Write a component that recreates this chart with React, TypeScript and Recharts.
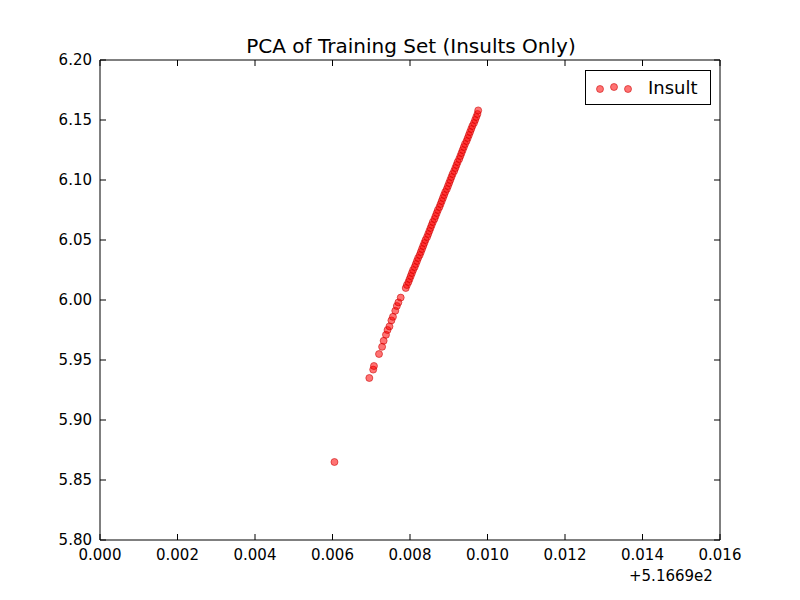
import React from "react";
import { ScatterChart, Scatter, XAxis, YAxis } from "recharts";

// x values are offsets from 516.69 (matplotlib shows "+5.1669e2")
const xValues = [
  0.00605, 0.00695, 0.00705, 0.00707, 0.0072, 0.00728, 0.00732, 0.00738, 0.00742, 0.00747,
  0.00752, 0.00756, 0.00762, 0.00766, 0.0077, 0.00776, 0.00789, 0.00792, 0.00796, 0.00799,
  0.00802, 0.00805, 0.00808, 0.00812, 0.00815, 0.00818, 0.00821, 0.00825, 0.00828, 0.00831,
  0.00834, 0.00837, 0.0084, 0.00844, 0.00847, 0.0085, 0.00853, 0.00856, 0.00859, 0.00863,
  0.00866, 0.00869, 0.00872, 0.00876, 0.00879, 0.00882, 0.00885, 0.00888, 0.00891, 0.00895,
  0.00898, 0.00901, 0.00904, 0.00907, 0.0091, 0.00914, 0.00917, 0.0092, 0.00923, 0.00927,
  0.0093, 0.00933, 0.00936, 0.00939, 0.00942, 0.00946, 0.00949, 0.00952, 0.00955, 0.00958,
  0.00961, 0.00965, 0.00968, 0.00971, 0.00974, 0.00976,
];
const yValues = [
  5.865, 5.935, 5.942, 5.945, 5.955, 5.961, 5.966, 5.971, 5.975, 5.978,
  5.983, 5.986, 5.991, 5.995, 5.998, 6.002, 6.01, 6.0125, 6.015, 6.0175,
  6.02, 6.0225, 6.025, 6.0275, 6.03, 6.0325, 6.035, 6.0375, 6.04, 6.0425,
  6.045, 6.0475, 6.05, 6.0525, 6.055, 6.0575, 6.06, 6.0625, 6.065, 6.0675,
  6.07, 6.0725, 6.075, 6.0775, 6.08, 6.0825, 6.085, 6.0875, 6.09, 6.0925,
  6.095, 6.0975, 6.1, 6.1025, 6.105, 6.1075, 6.11, 6.1125, 6.115, 6.1175,
  6.12, 6.1225, 6.125, 6.1275, 6.13, 6.1325, 6.135, 6.1375, 6.14, 6.1425,
  6.145, 6.1475, 6.15, 6.1525, 6.155, 6.158,
];
const xTicks = [0, 0.002, 0.004, 0.006, 0.008, 0.01, 0.012, 0.014, 0.016];
const yTicks = [5.8, 5.85, 5.9, 5.95, 6.0, 6.05, 6.1, 6.15, 6.2];

const data = xValues.map((x, i) => ({ x, y: yValues[i] }));
const font = "DejaVu Sans, sans-serif";

const Dot = (p: any) => (
  <circle cx={p.cx} cy={p.cy} r={3.5} fill="rgba(255,0,0,0.55)" stroke="rgba(200,0,0,0.55)" strokeWidth={1} />
);

const LeftTick = (p: any) => (
  <g>
    <line x1={p.x + 8} x2={p.x + 14} y1={p.y} y2={p.y} stroke="#000" />
    <text x={p.x} y={p.y} dy={5} textAnchor="end" fontSize={15} fontFamily={font} fill="#000">
      {p.payload.value.toFixed(2)}
    </text>
  </g>
);
const RightTick = (p: any) => (
  <line x1={p.x - 8} x2={p.x - 14} y1={p.y} y2={p.y} stroke="#000" />
);
const BottomTick = (p: any) => (
  <g>
    <line x1={p.x} x2={p.x} y1={p.y - 8} y2={p.y - 14} stroke="#000" />
    <text x={p.x} y={p.y} dy={12} textAnchor="middle" fontSize={15} fontFamily={font} fill="#000">
      {p.payload.value.toFixed(3)}
    </text>
  </g>
);
const TopTick = (p: any) => (
  <line x1={p.x} x2={p.x} y1={p.y + 8} y2={p.y + 14} stroke="#000" />
);

export default function App() {
  return (
    <div style={{ position: "absolute", left: 0, top: 0, width: 800, height: 600, background: "#fff" }}>
      <div style={{ position: "absolute", top: 34, left: 0, width: 822, textAlign: "center", fontFamily: font, fontSize: 20 }}>
        PCA of Training Set (Insults Only)
      </div>
      <ScatterChart width={800} height={600} margin={{ top: 30, right: 50, bottom: 30, left: 40 }}>
        <XAxis xAxisId="b" type="number" dataKey="x" domain={[0, 0.016]} ticks={xTicks} height={30}
          tickSize={0} tickMargin={8} tick={<BottomTick />} axisLine={{ stroke: "#000" }} allowDataOverflow />
        <XAxis xAxisId="t" orientation="top" type="number" dataKey="x" domain={[0, 0.016]} ticks={xTicks} height={30}
          tickSize={0} tickMargin={8} tick={<TopTick />} axisLine={{ stroke: "#000" }} allowDataOverflow />
        <YAxis yAxisId="l" type="number" dataKey="y" domain={[5.8, 6.2]} ticks={yTicks} width={60}
          tickSize={0} tickMargin={8} tick={<LeftTick />} axisLine={{ stroke: "#000" }} allowDataOverflow />
        <YAxis yAxisId="r" orientation="right" type="number" dataKey="y" domain={[5.8, 6.2]} ticks={yTicks} width={30}
          tickSize={0} tickMargin={8} tick={<RightTick />} axisLine={{ stroke: "#000" }} allowDataOverflow />
        <Scatter data={data} xAxisId="b" yAxisId="l" shape={<Dot />} isAnimationActive={false} />
      </ScatterChart>
      <div style={{ position: "absolute", left: 629, top: 567, fontFamily: font, fontSize: 15 }}>+5.1669e2</div>
      <div style={{ position: "absolute", left: 585, top: 70, width: 124, height: 33, border: "1px solid #000",
        background: "#fff", fontFamily: font, fontSize: 18, display: "flex", alignItems: "center" }}>
        <svg width={50} height={20} style={{ marginLeft: 6 }}>
          {[8, 22, 36].map((cx, i) => (
            <circle key={i} cx={cx} cy={i === 1 ? 9 : 11} r={3.5} fill="rgba(255,0,0,0.55)" stroke="rgba(200,0,0,0.55)" />
          ))}
        </svg>
        <span style={{ marginLeft: 6 }}>Insult</span>
      </div>
    </div>
  );
}
